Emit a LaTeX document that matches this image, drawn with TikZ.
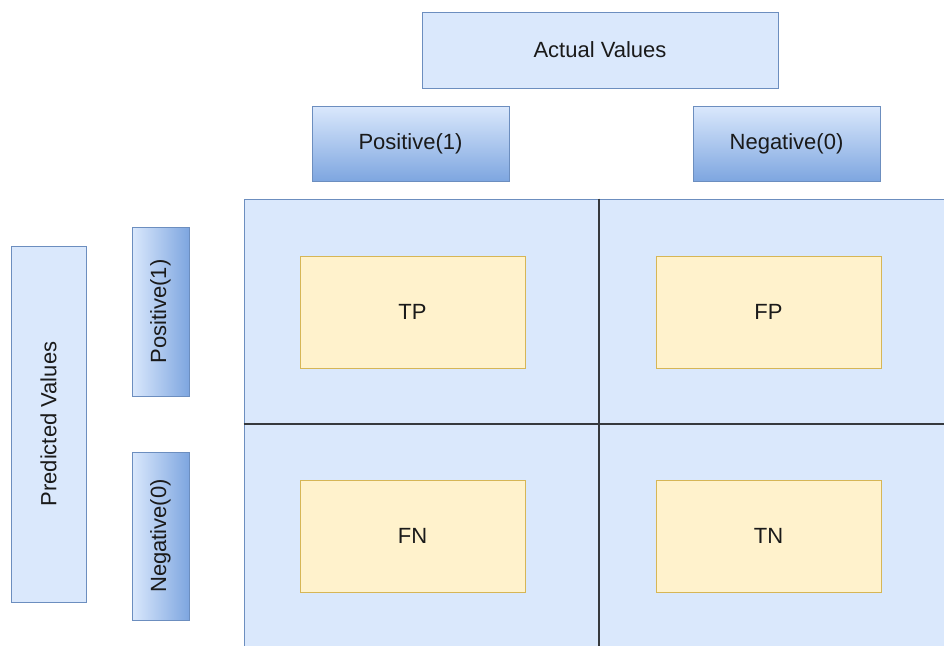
\documentclass[tikz,border=0pt]{standalone}
\usepackage{fontspec}
\usepackage{graphicx}
\setmainfont{Liberation Sans}
\definecolor{bluefill}{HTML}{DAE8FC}
\definecolor{bluedark}{HTML}{7EA6E0}
\definecolor{blueline}{HTML}{6C8EBF}
\definecolor{yellowfill}{HTML}{FFF2CC}
\definecolor{yellowline}{HTML}{D6B656}
\definecolor{divider}{HTML}{36393D}
\definecolor{ink}{HTML}{1A1A1A}
\tikzset{
  base/.style={rectangle, inner sep=0pt, line width=1pt, text=ink,
    font=\fontsize{22}{26}\selectfont},
  plainbox/.style={base, draw=blueline, fill=bluefill},
  headbox/.style={base, draw=blueline, top color=bluefill, bottom color=bluedark},
  sidebox/.style={base, draw=blueline, left color=bluefill, right color=bluedark},
  cellbox/.style={base, draw=yellowline, fill=yellowfill},
}
\begin{document}
\begin{tikzpicture}[x=1pt, y=-1pt]
\useasboundingbox (0,0) rectangle (944,645);
\clip (0,0) rectangle (944,645);
\fill[white] (0,0) rectangle (944,645);

% column headers
\node[plainbox, minimum width=356pt, minimum height=76pt] (actual) at (600,50) {Actual Values};
\node[headbox, minimum width=197pt, minimum height=75pt] (colpos) at (410.5,143.5) {Positive(1)};
\node[headbox, minimum width=187pt, minimum height=75pt] (colneg) at (786.5,143.5) {Negative(0)};

% row headers
\node[plainbox, minimum width=75pt, minimum height=356pt] (predicted) at (48.5,424) {\rotatebox{90}{Predicted Values}};
\node[sidebox, minimum width=57pt, minimum height=169pt] (rowpos) at (160.5,311.5) {\rotatebox{90}{Positive(1)}};
\node[sidebox, minimum width=57pt, minimum height=168pt] (rowneg) at (160.5,536) {\rotatebox{90}{Negative(0)}};

% matrix body and its quadrant dividers
\node[plainbox, minimum width=710pt, minimum height=450pt] (mat) at (599,424) {};
\draw[divider, line width=1.3pt] (mat.north) -- (mat.south);
\draw[divider, line width=1.3pt] (mat.west) -- (mat.east);

% outcome cells
\node[cellbox, minimum width=225pt, minimum height=112pt] (tp) at (412.5,312) {TP};
\node[cellbox, minimum width=225pt, minimum height=112pt] (fp) at (768.5,312) {FP};
\node[cellbox, minimum width=225pt, minimum height=112pt] (fn) at (412.5,536) {FN};
\node[cellbox, minimum width=225pt, minimum height=112pt] (tn) at (768.5,536) {TN};
\end{tikzpicture}
\end{document}
